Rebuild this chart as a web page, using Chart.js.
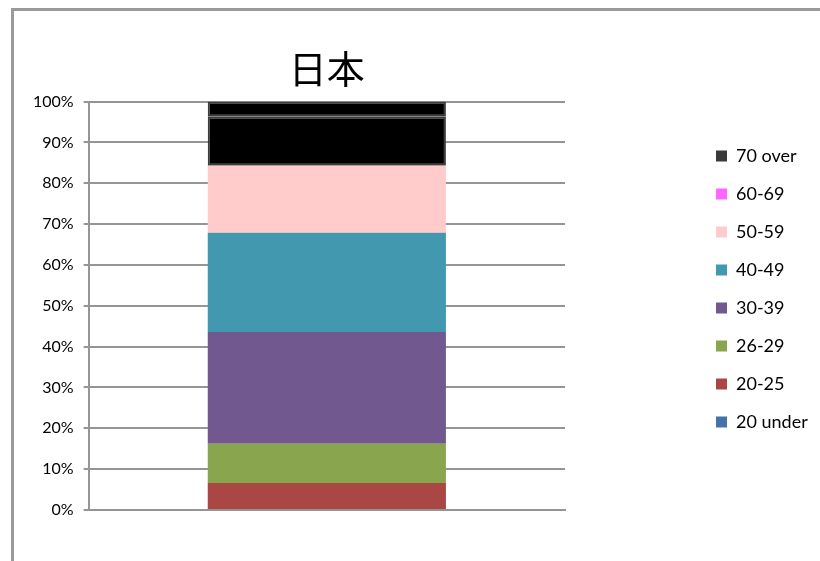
<!DOCTYPE html>
<html>
<head>
<meta charset="utf-8">
<script src="https://cdn.jsdelivr.net/npm/chart.js@4.4.0/dist/chart.umd.min.js"></script>
<style>
    html, body { margin: 0; padding: 0; background: #fff; overflow: hidden; }
    #waku {
        position: absolute; left: 11px; top: 8px; width: 900px; height: 700px;
        border-left: 3px solid #9a9a9a; border-top: 3px solid #9a9a9a;
    }
    #wrap { position: absolute; left: 0; top: 0; width: 820px; height: 561px; }
</style>
</head>
<body>
<div id="waku"></div>
<div id="wrap"><canvas id="nenreiChart" width="820" height="561"></canvas></div>
<script>
// カテゴリ（国）
var kuni = ['日本'];
// 年齢層
var nenrei = ['20 under', '20-25', '26-29', '30-39', '40-49', '50-59', '60-69', '70 over'];
// 構成比(%)
var wariai = [0, 6.6, 9.6, 27.4, 24.3, 16.4, 12.0, 3.7];
// 棒の色
var iro = ['#4572A7', '#AA4643', '#89A54E', '#71588F', '#4198AF', '#FFCBCB', '#000000', '#000000'];
// 凡例の色
var hanreiIro = ['#4572A7', '#AA4643', '#89A54E', '#71588F', '#4198AF', '#FFCBCB', '#FF66FF', '#3A3A3A'];
// 目盛りラベル
var memori = ['0%', '10%', '20%', '30%', '40%', '50%', '60%', '70%', '80%', '90%', '100%'];

var datasets = nenrei.map(function (name, i) {
    var kuro = iro[i] === '#000000';
    return {
        label: name,
        data: [wariai[i]],
        backgroundColor: iro[i],
        borderColor: kuro ? '#3c3c3c' : iro[i],
        borderWidth: kuro ? 2 : 0,
        borderSkipped: false
    };
});

// 凡例を右側に離して置く
var hanreiIchi = {
    id: 'hanreiIchi',
    beforeInit: function (chart) {
        var fit = chart.legend.fit;
        chart.legend.fit = function () {
            fit.call(this);
            this.width = 255;
        };
    },
    afterLayout: function (chart) {
        chart.legend.left = 696;
        chart.legend.top += 15;
        chart.legend.bottom += 15;
    }
};

var nenreiChart = new Chart(document.getElementById('nenreiChart').getContext('2d'), {
    type: 'bar',
    data: { labels: kuni, datasets: datasets },
    options: {
        responsive: false,
        animation: false,
        layout: { padding: { left: 23, top: 30, bottom: 43, right: 0 } },
        scales: {
            x: {
                stacked: true,
                grid: { display: false },
                border: { display: true, color: '#959595', width: 2 },
                ticks: { display: false }
            },
            y: {
                stacked: true,
                min: 0,
                max: 100,
                grid: { color: '#959595', lineWidth: 2, tickLength: 5 },
                border: { color: '#959595', width: 2 },
                ticks: {
                    stepSize: 10,
                    padding: 10,
                    color: '#000',
                    font: { family: 'Lato', size: 16 },
                    callback: function (v, i) { return memori[i]; }
                }
            }
        },
        datasets: { bar: { categoryPercentage: 0.5, barPercentage: 1 } },
        plugins: {
            title: {
                display: true,
                text: '日本',
                fullSize: false,
                color: '#000',
                font: { family: 'Noto Sans CJK JP', size: 38, weight: 'normal' },
                padding: { top: 16, bottom: 10 }
            },
            legend: {
                position: 'right',
                reverse: true,
                labels: {
                    boxWidth: 11,
                    boxHeight: 11,
                    padding: 20,
                    color: '#000',
                    font: { family: 'Lato', size: 18 },
                    generateLabels: function (chart) {
                        return chart.data.datasets.map(function (ds, i) {
                            return {
                                text: ds.label,
                                fillStyle: hanreiIro[i],
                                strokeStyle: hanreiIro[i],
                                lineWidth: 0,
                                datasetIndex: i
                            };
                        });
                    }
                }
            },
            tooltip: { enabled: false }
        }
    },
    plugins: [hanreiIchi]
});
</script>
</body>
</html>
